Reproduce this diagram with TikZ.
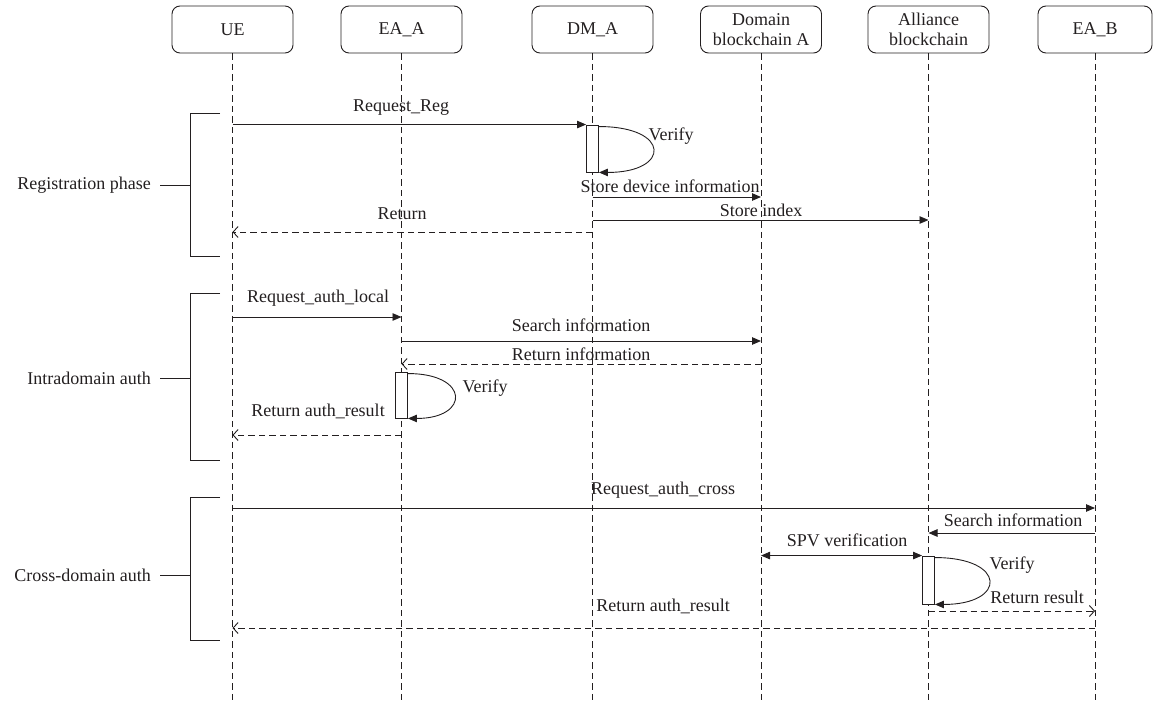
\documentclass[tikz,border=0pt]{standalone}
\usepackage{fontspec}
\setmainfont{Liberation Serif}
\usetikzlibrary{arrows.meta}
\definecolor{ink}{RGB}{35,31,32}
\begin{document}
\begin{tikzpicture}[x=1pt,y=-1pt,
  font=\fontsize{18}{20.5}\selectfont, text=ink,
  actor/.style={draw=ink, line width=0.9pt, rounded corners=8pt, minimum width=121pt, minimum height=47pt, align=center, inner sep=1pt},
  life/.style={draw=ink, line width=0.8pt, dash pattern=on 6.5pt off 4pt},
  msg/.style={draw=ink, line width=0.9pt, -{Triangle[length=9pt,width=7.5pt]}},
  dmsg/.style={draw=ink, line width=0.9pt, {Triangle[length=9pt,width=7.5pt]}-{Triangle[length=9pt,width=7.5pt]}},
  ret/.style={draw=ink, line width=0.9pt, dash pattern=on 6.5pt off 4pt, -{Straight Barb[length=5pt,width=11pt]}},
  act/.style={draw=ink, line width=0.9pt, fill=white, minimum width=12pt, inner sep=0pt},
  lbl/.style={inner sep=0pt},
  brk/.style={draw=ink, line width=0.9pt}
]
\useasboundingbox (0,0) rectangle (1153,701);

% actors
\node[actor] (UE)  at (232.5,29.5) {UE};
\node[actor] (EAA) at (401.5,29.5) {EA\_A};
\node[actor] (DMA) at (592.5,29.5) {DM\_A};
\node[actor] (DBA) at (761,29.5) {Domain\\blockchain A};
\node[actor] (ABC) at (928.5,29.5) {Alliance\\blockchain};
\node[actor, minimum width=114pt] (EAB) at (1095,29.5) {EA\_B};

% lifelines
\coordinate (bot) at (0,701);
\foreach \a in {UE,EAA,DMA,DBA,ABC,EAB}{
  \draw[life] (\a.south) -- (\a |- bot);
}

% activation boxes
\node[act, minimum height=47pt] (act1) at (592.5,148.5) {};
\node[act, minimum height=46pt] (act2) at (401.5,395) {};
\node[act, minimum height=48pt] (act3) at (928.5,580) {};

% row coordinates
\coordinate (r2) at (0,197);
\coordinate (r3) at (0,220);
\coordinate (r4) at (0,232);
\coordinate (r5) at (0,317);
\coordinate (r6) at (0,341);
\coordinate (r7) at (0,364);
\coordinate (r8) at (0,435);
\coordinate (r9) at (0,508);
\coordinate (r10) at (0,533);
\coordinate (r11) at (0,611);
\coordinate (r12) at (0,628);

% Registration phase
\draw[msg] (UE |- act1.north) -- (act1.north west);
\draw[msg] ([yshift=-2pt]act1.north east) .. controls +(72,0) and +(72,0) .. (act1.south east);
\draw[msg] (DMA |- r2) -- (DBA |- r2);
\draw[msg] (DMA |- r3) -- (ABC |- r3);
\draw[ret] (DMA |- r4) -- (UE |- r4);
\node[lbl] (t1) at (401,108) {Request\_Reg};
\node[lbl] (t2) at (671,136) {Verify};
\node[lbl] (t3) at (670,186) {Store device information};
\node[lbl] (t4) at (761,210) {Store index};
\node[lbl] (t5) at (402,214) {Return};

% Intradomain auth
\draw[msg] (UE |- r5) -- (EAA |- r5);
\draw[msg] (EAA |- r6) -- (DBA |- r6);
\draw[ret] (DBA |- r7) -- (EAA |- r7);
\draw[msg] ([yshift=-2pt]act2.north east) .. controls +(62,0) and +(62,0) .. (act2.south east);
\draw[ret] (EAA |- r8) -- (UE |- r8);
\node[lbl] (t6) at (318,298) {Request\_auth\_local};
\node[lbl] (t7) at (581,325) {Search information};
\node[lbl] (t8) at (581,354) {Return information};
\node[lbl] (t9) at (485,388) {Verify};
\node[lbl] (t10) at (318,411) {Return auth\_result};

% Cross-domain auth
\draw[msg] (UE |- r9) -- (EAB |- r9);
\draw[msg] (EAB |- r10) -- (ABC |- r10);
\draw[dmsg] (DBA |- act3.north) -- (act3.north west);
\draw[msg] ([yshift=-2pt]act3.north east) .. controls +(72,0) and +(72,0) .. (act3.south east);
\draw[ret] (ABC |- r11) -- (EAB |- r11);
\draw[ret] (EAB |- r12) -- (UE |- r12);
\node[lbl] (t11) at (663,490) {Request\_auth\_cross};
\node[lbl] (t12) at (1013,520) {Search information};
\node[lbl] (t13) at (847,540) {SPV verification};
\node[lbl] (t14) at (1012,565) {Verify};
\node[lbl] (t15) at (1037,597) {Return result};
\node[lbl] (t16) at (663,606) {Return auth\_result};

% phase brackets
\node[lbl, anchor=east] (p1) at (151,185) {Registration phase};
\node[lbl, anchor=east] (p2) at (151,378) {Intradomain auth};
\node[lbl, anchor=east] (p3) at (151,575) {Cross-domain auth};
\draw[brk] (220,113) -- (190,113) -- (190,256) -- (220,256);
\draw[brk] (220,293) -- (190,293) -- (190,460) -- (220,460);
\draw[brk] (220,497) -- (190,497) -- (190,640) -- (220,640);
\draw[brk] (160,185) -- (190,185);
\draw[brk] (160,378) -- (190,378);
\draw[brk] (160,575) -- (190,575);
\end{tikzpicture}
\end{document}
